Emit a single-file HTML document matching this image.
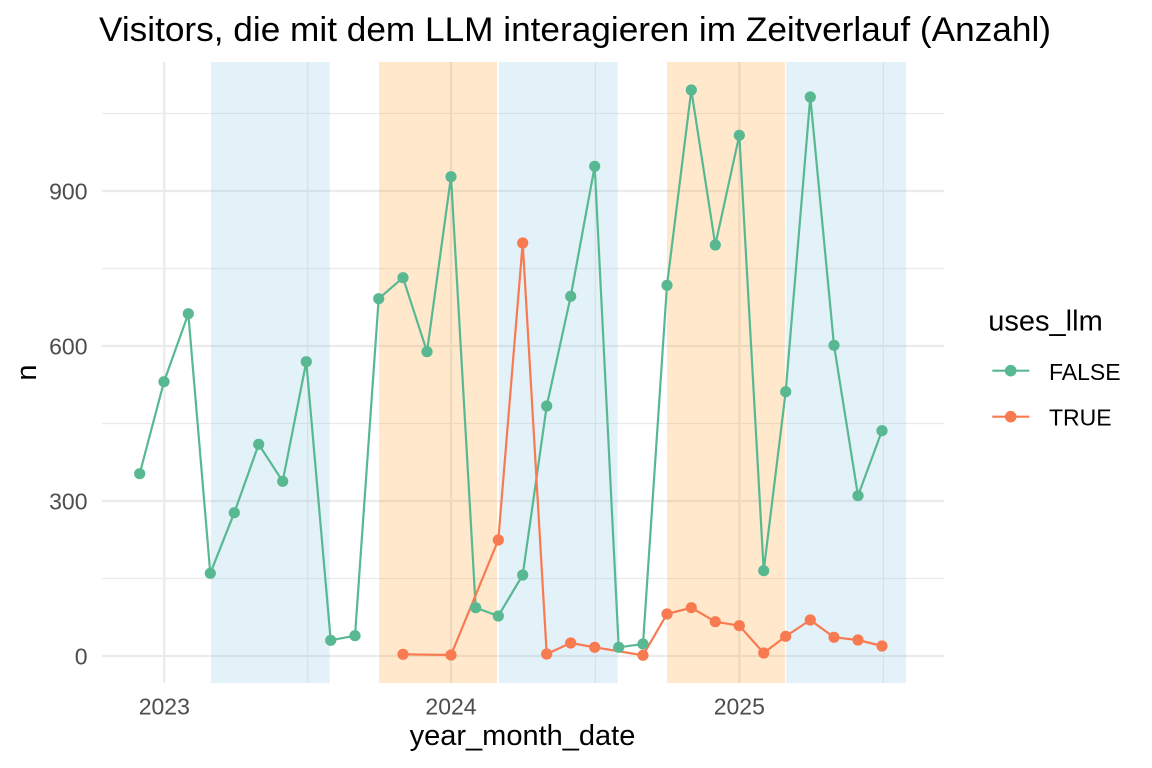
<!DOCTYPE html>
<html>
<head>
<meta charset="utf-8">
<style>
  html, body { margin: 0; padding: 0; background: #ffffff; }
  svg { display: block; }
  text { font-family: "Liberation Sans", Arial, Helvetica, sans-serif; }
</style>
</head>
<body>
<svg width="1152" height="768" viewBox="0 0 1152 768" xmlns="http://www.w3.org/2000/svg">
  <rect x="0" y="0" width="1152" height="768" fill="#ffffff"/>

  <!-- minor gridlines -->
  <g stroke="#ebebeb" stroke-width="1.2" fill="none">
    <line x1="101.7" y1="113.5" x2="944" y2="113.5"/>
    <line x1="101.7" y1="268.5" x2="944" y2="268.5"/>
    <line x1="101.7" y1="423.5" x2="944" y2="423.5"/>
    <line x1="101.7" y1="578.5" x2="944" y2="578.5"/>
    <line x1="307.7" y1="62" x2="307.7" y2="683"/>
    <line x1="595.3" y1="62" x2="595.3" y2="683"/>
    <line x1="883.3" y1="62" x2="883.3" y2="683"/>
  </g>
  <!-- major gridlines -->
  <g stroke="#ebebeb" stroke-width="2.3" fill="none">
    <line x1="101.7" y1="191" x2="944" y2="191"/>
    <line x1="101.7" y1="346" x2="944" y2="346"/>
    <line x1="101.7" y1="501" x2="944" y2="501"/>
    <line x1="101.7" y1="656" x2="944" y2="656"/>
    <line x1="164.3" y1="62" x2="164.3" y2="683"/>
    <line x1="451" y1="62" x2="451" y2="683"/>
    <line x1="739.3" y1="62" x2="739.3" y2="683"/>
  </g>

  <!-- shaded bands -->
  <g>
    <rect x="211" y="62" width="118.7" height="621" fill="#73b9e1" fill-opacity="0.2"/>
    <rect x="379" y="62" width="118" height="621" fill="#ff8c00" fill-opacity="0.2"/>
    <rect x="499" y="62" width="118.7" height="621" fill="#73b9e1" fill-opacity="0.2"/>
    <rect x="667" y="62" width="118" height="621" fill="#ff8c00" fill-opacity="0.2"/>
    <rect x="786.3" y="62" width="119.7" height="621" fill="#73b9e1" fill-opacity="0.2"/>
  </g>

  <!-- lines -->
  <polyline fill="none" stroke="#58b892" stroke-width="2.2" stroke-linejoin="round"
    points="139.7,473.7 164,381.7 188.3,313.7 210.3,573.3 234.3,512.7 258.7,444.3 282.7,481.3 306.3,361.7 330.7,640.3 355,635.7 378.7,298.7 403,277.7 427,351.7 451,176.7 475.7,607.7 498.3,616 522.7,575 546.7,406 570.7,296.3 594.7,166.3 618.7,647.3 643,644 667,285.3 691.3,90 715.3,245 739.3,135.3 763.7,570.7 785.7,391.7 810.3,97 834,345.3 858,495.7 882,430.7"/>
  <polyline fill="none" stroke="#f87a50" stroke-width="2.2" stroke-linejoin="round"
    points="403,654.3 451,655 498.3,540 522.7,243 546.7,654 570.7,643 594.7,647.3 643,655.3 667,614 691.3,607.7 715.3,621.7 739.3,625.7 763.7,653 785.7,636.3 810.3,620 834,637.3 858,640 882,646"/>

  <!-- points FALSE -->
  <g fill="#58b892">
    <circle cx="139.7" cy="473.7" r="5.6"/><circle cx="164" cy="381.7" r="5.6"/>
    <circle cx="188.3" cy="313.7" r="5.6"/><circle cx="210.3" cy="573.3" r="5.6"/>
    <circle cx="234.3" cy="512.7" r="5.6"/><circle cx="258.7" cy="444.3" r="5.6"/>
    <circle cx="282.7" cy="481.3" r="5.6"/><circle cx="306.3" cy="361.7" r="5.6"/>
    <circle cx="330.7" cy="640.3" r="5.6"/><circle cx="355" cy="635.7" r="5.6"/>
    <circle cx="378.7" cy="298.7" r="5.6"/><circle cx="403" cy="277.7" r="5.6"/>
    <circle cx="427" cy="351.7" r="5.6"/><circle cx="451" cy="176.7" r="5.6"/>
    <circle cx="475.7" cy="607.7" r="5.6"/><circle cx="498.3" cy="616" r="5.6"/>
    <circle cx="522.7" cy="575" r="5.6"/><circle cx="546.7" cy="406" r="5.6"/>
    <circle cx="570.7" cy="296.3" r="5.6"/><circle cx="594.7" cy="166.3" r="5.6"/>
    <circle cx="618.7" cy="647.3" r="5.6"/><circle cx="643" cy="644" r="5.6"/>
    <circle cx="667" cy="285.3" r="5.6"/><circle cx="691.3" cy="90" r="5.6"/>
    <circle cx="715.3" cy="245" r="5.6"/><circle cx="739.3" cy="135.3" r="5.6"/>
    <circle cx="763.7" cy="570.7" r="5.6"/><circle cx="785.7" cy="391.7" r="5.6"/>
    <circle cx="810.3" cy="97" r="5.6"/><circle cx="834" cy="345.3" r="5.6"/>
    <circle cx="858" cy="495.7" r="5.6"/><circle cx="882" cy="430.7" r="5.6"/>
  </g>
  <!-- points TRUE -->
  <g fill="#f87a50">
    <circle cx="403" cy="654.3" r="5.6"/><circle cx="451" cy="655" r="5.6"/>
    <circle cx="498.3" cy="540" r="5.6"/><circle cx="522.7" cy="243" r="5.6"/>
    <circle cx="546.7" cy="654" r="5.6"/><circle cx="570.7" cy="643" r="5.6"/>
    <circle cx="594.7" cy="647.3" r="5.6"/><circle cx="643" cy="655.3" r="5.6"/>
    <circle cx="667" cy="614" r="5.6"/><circle cx="691.3" cy="607.7" r="5.6"/>
    <circle cx="715.3" cy="621.7" r="5.6"/><circle cx="739.3" cy="625.7" r="5.6"/>
    <circle cx="763.7" cy="653" r="5.6"/><circle cx="785.7" cy="636.3" r="5.6"/>
    <circle cx="810.3" cy="620" r="5.6"/><circle cx="834" cy="637.3" r="5.6"/>
    <circle cx="858" cy="640" r="5.6"/><circle cx="882" cy="646" r="5.6"/>
  </g>

  <!-- title -->
  <text x="99" y="41" font-size="34.5" fill="#000000" textLength="952" lengthAdjust="spacingAndGlyphs">Visitors, die mit dem LLM interagieren im Zeitverlauf (Anzahl)</text>

  <!-- y tick labels -->
  <g font-size="23" fill="#4d4d4d" text-anchor="end">
    <text x="87.5" y="199.3">900</text>
    <text x="87.5" y="354.3">600</text>
    <text x="87.5" y="509.3">300</text>
    <text x="87.5" y="664.3">0</text>
  </g>
  <!-- x tick labels -->
  <g font-size="23" fill="#4d4d4d" text-anchor="middle">
    <text x="164.3" y="714.3">2023</text>
    <text x="451" y="714.3">2024</text>
    <text x="739.3" y="714.3">2025</text>
  </g>

  <!-- axis titles -->
  <text x="522.5" y="745" font-size="29" fill="#000000" text-anchor="middle">year_month_date</text>
  <text transform="translate(36,372.5) rotate(-90)" font-size="29" fill="#000000" text-anchor="middle">n</text>

  <!-- legend -->
  <text x="988.3" y="330.7" font-size="29" fill="#000000">uses_llm</text>
  <line x1="992.3" y1="370.7" x2="1029.3" y2="370.7" stroke="#58b892" stroke-width="2.2"/>
  <circle cx="1010.7" cy="370.7" r="5.8" fill="#58b892"/>
  <text x="1049" y="380" font-size="23" fill="#000000">FALSE</text>
  <line x1="992.3" y1="416.7" x2="1029.3" y2="416.7" stroke="#f87a50" stroke-width="2.2"/>
  <circle cx="1010.7" cy="416.7" r="5.8" fill="#f87a50"/>
  <text x="1049" y="425.7" font-size="23" fill="#000000">TRUE</text>
</svg>
</body>
</html>
